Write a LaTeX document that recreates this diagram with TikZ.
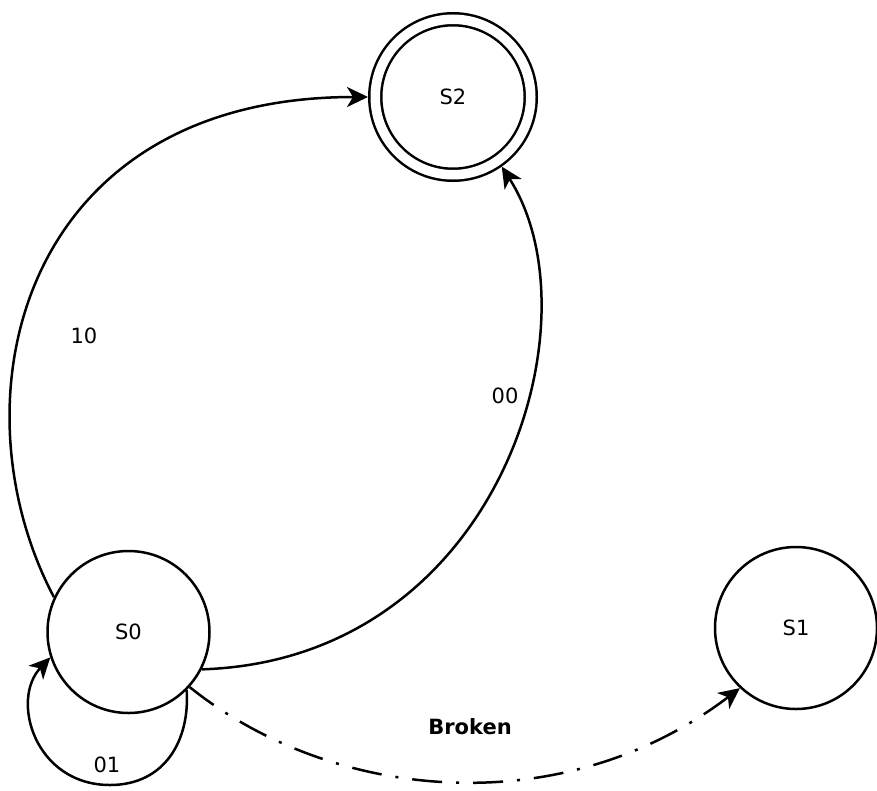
\documentclass[tikz,border=0pt]{standalone}
\usepackage{fontspec}
\setmainfont{DejaVu Sans}
\usetikzlibrary{arrows.meta}

\begin{document}
\begin{tikzpicture}[x=1pt,y=-1pt,
    state/.style={draw,circle,line width=2.5pt,minimum size=162pt,inner sep=0pt,font=\fontsize{21}{24}\selectfont},
    accept/.style={state,double,double distance=9.5pt,minimum size=155.5pt,outer sep=7.25pt},
    trans/.style={line width=2.5pt,-{Stealth[length=21pt,width=20pt,inset=6pt]}},
    broken/.style={trans,dash pattern=on 30pt off 14pt on 3pt off 14pt},
    lbl/.style={font=\fontsize{21}{24}\selectfont}]
    \useasboundingbox (0,0) rectangle (877,790);
    % states
    \node[state] (s0) at (128.5,632) {S0};
    \node[state] (s1) at (796,628) {S1};
    \node[accept] (s2) at (453,97) {S2};
    % transitions
    \draw[trans] (s0.155) .. controls (-50,400) and (20,97) .. (s2.west);
    \draw[trans] (s0.-27) .. controls (500,660) and (600,320) .. (s2.-55);
    \draw[trans] (s0.-45) .. controls (190,740) and (165,785) .. (110,785)
        .. controls (35,785) and (10,700) .. (s0.198);
    \draw[broken] (s0.-42) .. controls (330,800) and (560,825) .. (s1.227);
    % labels
    \node[lbl] (l10) at (84,336) {10};
    \node[lbl] (l00) at (505,396) {00};
    \node[lbl] (l01) at (107,765) {01};
    \node[lbl,font=\fontsize{21}{24}\selectfont\bfseries] (lbroken) at (470,727) {Broken};
\end{tikzpicture}
\end{document}
